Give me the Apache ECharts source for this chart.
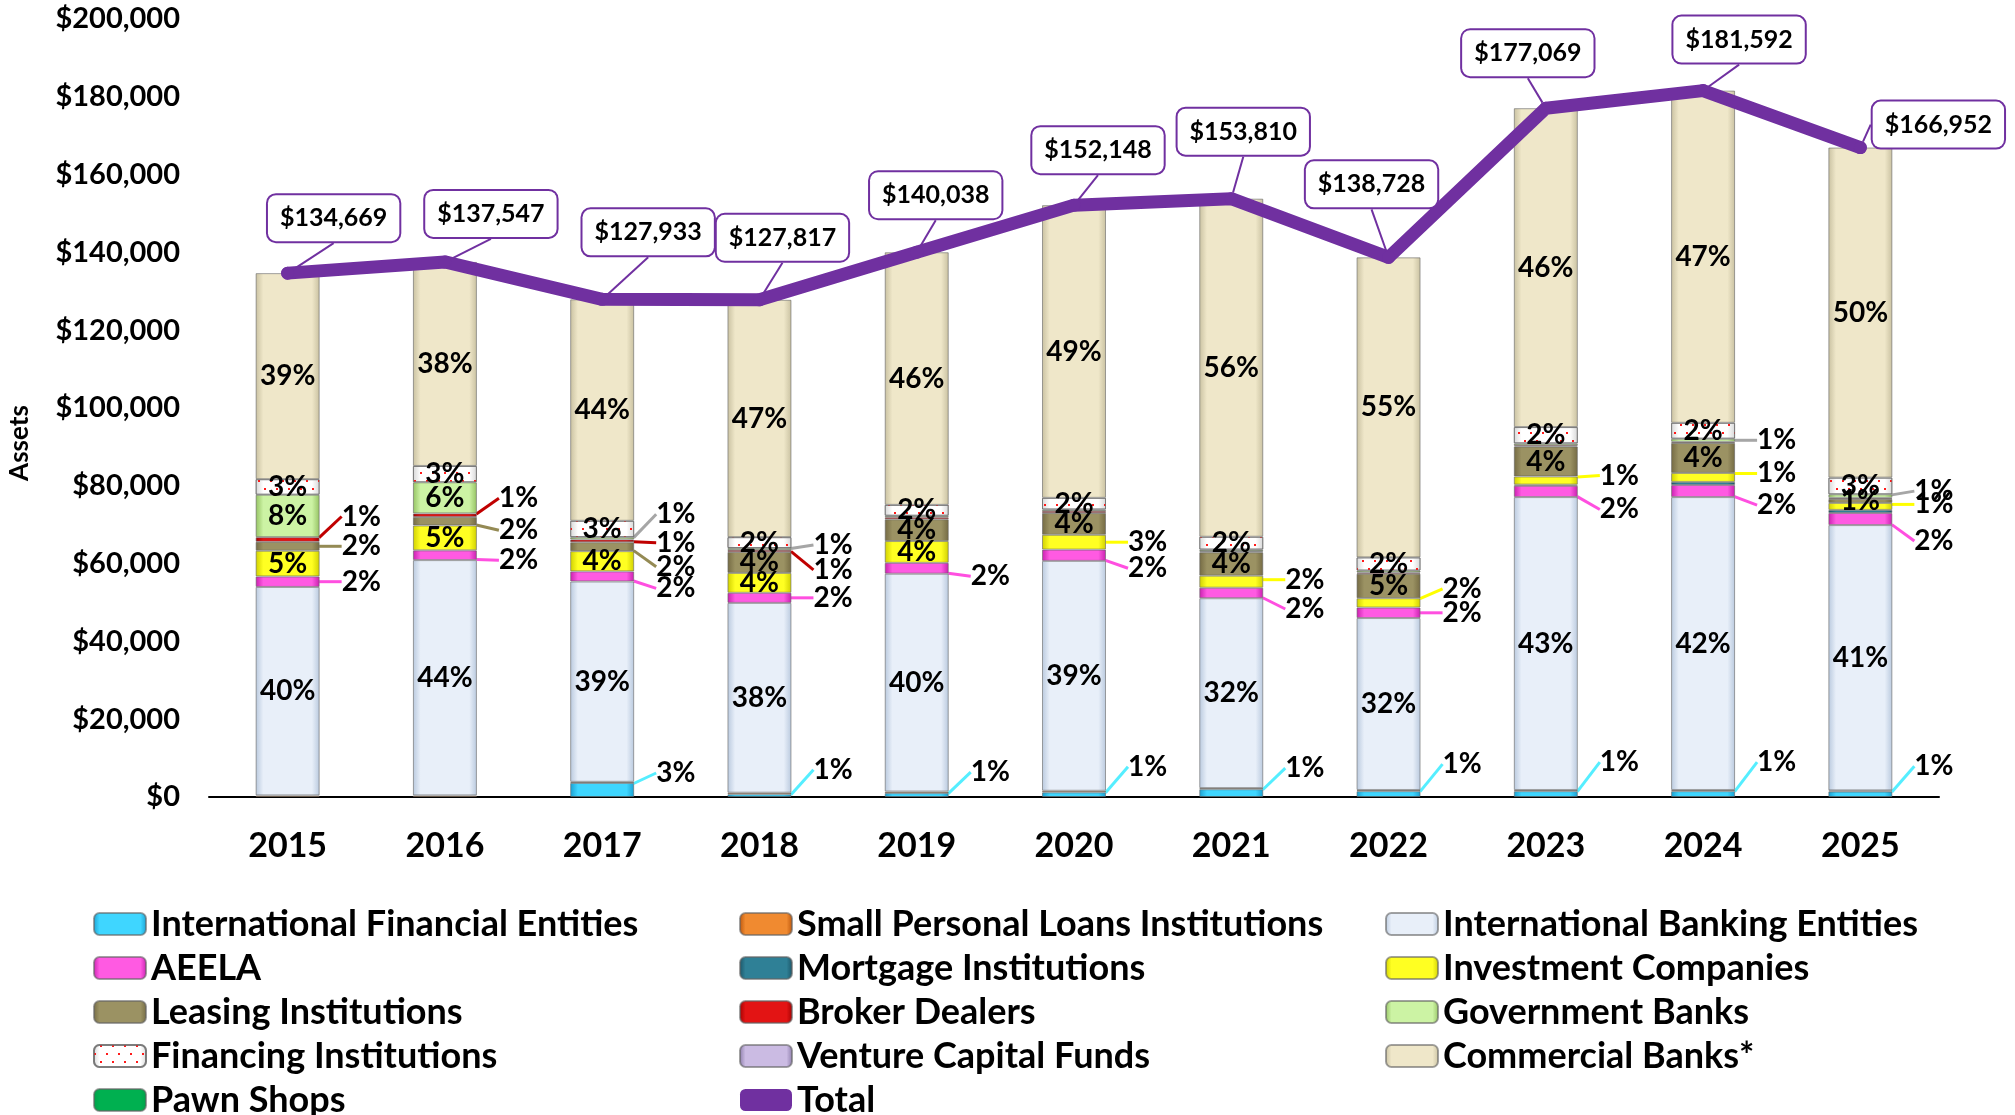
<!DOCTYPE html>
<html lang="en">
<head>
<meta charset="UTF-8">
<title>Assets by Institution Type 2015-2025</title>
<style>
    html,body{margin:0;background:#fff;}
    #chart{width:2015px;height:1115px;}
</style>
<script src="https://cdn.jsdelivr.net/npm/echarts@6/dist/echarts.min.js"></script>
</head>
<body>
<div id="chart"></div>
<script>
const years = ['2015', '2016', '2017', '2018', '2019', '2020', '2021', '2022', '2023', '2024', '2025'];
const totals = [134669, 137547, 127933, 127817, 140038, 152148, 153810, 138728, 177069, 181592, 166952];

// segment values, bottom of the stack first
const intlFinancial = [0, 0, 3600, 700, 1000, 1200, 2000, 1500, 1500, 1500, 1400];
const smallLoans = [400, 400, 300, 400, 400, 400, 300, 300, 300, 300, 300];
const intlBanking = [53600, 60500, 51500, 48800, 56000, 59100, 48800, 44200, 75300, 75300, 68200];
const aeela = [2700, 2500, 2600, 2600, 2800, 2900, 2700, 2700, 2900, 3100, 3100];
const mortgage = [0, 0, 0, 0, 0, 0, 0, 0, 300, 800, 800];
const investment = [6600, 6400, 5200, 5100, 5600, 3800, 3100, 2400, 2100, 2300, 1800];
const leasing = [2300, 2200, 2300, 5400, 5600, 5600, 6000, 6300, 7700, 7700, 1000];
const broker = [1200, 900, 700, 500, 500, 500, 300, 300, 300, 300, 300];
const government = [10900, 8000, 600, 500, 400, 400, 400, 500, 500, 800, 900];
const financing = [4000, 4200, 4200, 2800, 2800, 3000, 3300, 3400, 4200, 4100, 4300];
const venture = [0, 0, 0, 0, 0, 0, 0, 0, 0, 0, 0];
const commercial = [52969, 52447, 56933, 61017, 64938, 75248, 86910, 77128, 81969, 85392, 84852];
const pawn = [0, 0, 0, 0, 0, 0, 0, 0, 0, 0, 0];

// percent labels shown on the bars
const pctIntlFinancial = [null, null, '3%', '1%', '1%', '1%', '1%', '1%', '1%', '1%', '1%'];
const pctIntlBanking = ['40%', '44%', '39%', '38%', '40%', '39%', '32%', '32%', '43%', '42%', '41%'];
const pctAeela = ['2%', '2%', '2%', '2%', '2%', '2%', '2%', '2%', '2%', '2%', '2%'];
const pctInvestment = ['5%', '5%', '4%', '4%', '4%', '3%', '2%', '2%', '1%', '1%', '1%'];
const pctLeasing = ['2%', '2%', '2%', '4%', '4%', '4%', '4%', '5%', '4%', '4%', '1%'];
const pctBroker = ['1%', '1%', '1%', '1%', null, null, null, null, null, null, null];
const pctGovernment = ['8%', '6%', '1%', '1%', null, null, null, null, null, '1%', '1%'];
const pctFinancing = ['3%', '3%', '3%', '2%', '2%', '2%', '2%', '2%', '2%', '2%', '3%'];
const pctCommercial = ['39%', '38%', '44%', '47%', '46%', '49%', '56%', '55%', '46%', '47%', '50%'];

// labels placed outside the bar with a leader: vertical shift in px (null = inside the bar)
const outsideDy = {
    'International Financial Entities': [null, null, -17, -26, -23, -28, -25, -30, -32, -32, -28],
    'AEELA': [0, 5, 12, 0, 8, 13, 16, 0, 18, 14, 22],
    'Investment Companies': [null, null, null, null, null, 0, -2, -14, -5, -4, -2],
    'Leasing Institutions': [0, 9, 20, null, null, null, null, null, null, null, null],
    'Broker Dealers': [-23, -17, 2, 19, null, null, null, null, null, null, null],
    'Government Banks': [null, null, -24, -4, null, null, null, null, null, 0, -5]
};
// callout offsets for the total labels
const totalDx = [46, 46, 46, 23, 19, 24, 12, -17, -18, 36, 78];
const totalDy = [-55, -48, -67, -62, -57, -55, -67, -73, -55, -51, -23];

const FONT = 'Lato, "Open Sans", sans-serif';

function bevel(edge, mid) {
    return new echarts.graphic.LinearGradient(0, 0, 1, 0, [
        {offset: 0, color: edge}, {offset: 0.12, color: mid},
        {offset: 0.88, color: mid}, {offset: 1, color: edge}
    ]);
}

function makeBar(name, values, pcts, edge, mid, leader, extraStyle) {
    const dys = outsideDy[name] || [];
    return {
        name: name,
        type: 'bar',
        stack: 'assets',
        barWidth: 64,
        itemStyle: Object.assign({color: bevel(edge, mid), borderColor: 'rgba(100,100,100,0.6)', borderWidth: 1}, extraStyle || {}),
        label: {
            show: true, color: '#000', fontSize: 28, fontWeight: 'bold', fontFamily: FONT,
            formatter: function (p) { return pcts ? (pcts[p.dataIndex] || '') : ''; }
        },
        labelLine: {show: true, lineStyle: {color: leader, width: 3}},
        labelLayout: function (p) {
            const d = dys[p.dataIndex];
            return d == null ? {} : {dy: d};
        },
        data: values.map(function (v, i) {
            const out = dys[i] != null;
            const has = !!(pcts && pcts[i] != null);
            return {
                value: v === 0 ? '-' : v,
                label: {show: has, position: out ? 'right' : 'inside', distance: 22},
                labelLine: {show: has && out}
            };
        })
    };
}

const chart = echarts.init(document.getElementById('chart'), null, {width: 2015, height: 1115});

const legendText = {color: '#000', fontSize: 36, fontWeight: 'bold', fontFamily: FONT, lineHeight: 36};
function col(left, names) {
    return {
        orient: 'vertical', left: left, top: 906, height: 240, padding: 0, itemGap: 8,
        itemWidth: 52, itemHeight: 22, textStyle: legendText, data: names
    };
}

chart.setOption({
    animation: false,
    textStyle: {fontFamily: FONT},
    grid: {left: 209, right: 76, top: 19, bottom: 318, containLabel: false, outerBoundsMode: 'none'},
    legend: [
        col(93, ['International Financial Entities', 'AEELA', 'Leasing Institutions', 'Financing Institutions', 'Pawn Shops']),
        col(739, ['Small Personal Loans Institutions', 'Mortgage Institutions', 'Broker Dealers', 'Venture Capital Funds', {name: 'Total', icon: 'roundRect'}]),
        col(1385, ['International Banking Entities', 'Investment Companies', 'Government Banks', 'Commercial Banks*'])
    ],
    xAxis: {
        type: 'category',
        data: years,
        axisLine: {lineStyle: {color: '#000', width: 2}},
        axisTick: {show: false},
        axisLabel: {color: '#000', fontSize: 34, fontWeight: 'bold', margin: 32}
    },
    yAxis: {
        type: 'value',
        min: 0, max: 200000, interval: 20000,
        name: 'Assets',
        nameLocation: 'middle',
        nameGap: 176,
        nameRotate: 90,
        nameTextStyle: {color: '#000', fontSize: 26, fontWeight: 'bold', padding: [0, 70, 0, 0]},
        axisLine: {show: false},
        axisTick: {show: false},
        splitLine: {show: false},
        axisLabel: {
            color: '#000', fontSize: 29, fontWeight: 'bold', margin: 29,
            formatter: function (v) { return '$' + v.toLocaleString('en-US'); }
        }
    },
    series: [
        makeBar('International Financial Entities', intlFinancial, pctIntlFinancial, '#1a9fd0', '#3fd6ff', '#55eeff'),
        makeBar('Small Personal Loans Institutions', smallLoans, null, '#b9530a', '#f08a30', '#e46c0a'),
        makeBar('International Banking Entities', intlBanking, pctIntlBanking, '#b9c9de', '#e8eff9', '#b9c9de'),
        makeBar('AEELA', aeela, pctAeela, '#c81fae', '#ff5ae2', '#ff4fe0'),
        makeBar('Mortgage Institutions', mortgage, null, '#1b5264', '#2f8096', '#215968'),
        makeBar('Investment Companies', investment, pctInvestment, '#cfcf00', '#ffff22', '#ffff00'),
        makeBar('Leasing Institutions', leasing, pctLeasing, '#746a43', '#9b9263', '#948a54'),
        makeBar('Broker Dealers', broker, pctBroker, '#a00000', '#e31414', '#c00000'),
        makeBar('Government Banks', government, pctGovernment, '#94c262', '#ccf3a4', '#a6a6a6'),
        makeBar('Financing Institutions', financing, pctFinancing, '#d6d6d6', '#ffffff', '#a6a6a6', {
            decal: {symbol: 'rect', symbolSize: 1, color: '#ff1a1a', dashArrayX: [[2, 10], [0, 6, 2, 4]], dashArrayY: [2, 6]}
        }),
        makeBar('Venture Capital Funds', venture, null, '#8a7aa8', '#cbbbe3', '#8a7aa8'),
        makeBar('Commercial Banks*', commercial, pctCommercial, '#c9c1a1', '#efe7c9', '#c9c1a1'),
        makeBar('Pawn Shops', pawn, null, '#00a04a', '#00b050', '#00b050'),
        {
            name: 'Total',
            type: 'line',
            data: totals,
            z: 10,
            symbol: 'circle',
            symbolSize: 13,
            lineStyle: {color: '#7030a0', width: 13, cap: 'round', join: 'round'},
            itemStyle: {color: '#7030a0'},
            label: {
                show: true, position: 'inside',
                formatter: function (p) { return '$' + p.value.toLocaleString('en-US'); },
                color: '#000', fontSize: 25, fontWeight: 'bold', fontFamily: FONT, lineHeight: 28,
                backgroundColor: '#fff', borderColor: '#7030a0', borderWidth: 2, borderRadius: 8,
                padding: [9, 12]
            },
            labelLine: {show: true, lineStyle: {color: '#7030a0', width: 2}},
            labelLayout: function (p) {
                return {dx: totalDx[p.dataIndex], dy: totalDy[p.dataIndex]};
            }
        }
    ]
});
</script>
</body>
</html>
